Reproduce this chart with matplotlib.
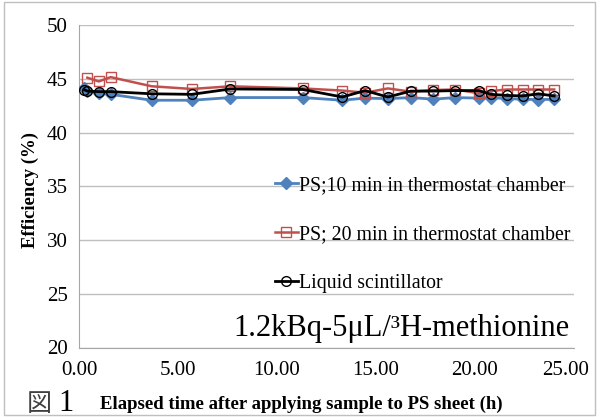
import matplotlib
matplotlib.use("Agg")
import matplotlib.pyplot as plt
import matplotlib.transforms as mtransforms
from matplotlib.patches import Rectangle

plt.rcParams['font.family'] = ['Liberation Serif', 'Noto Sans CJK JP', 'DejaVu Sans']

# Elapsed time (h) and counting efficiency (%)
t_all = [0.25, 0.42, 1.0, 1.6, 3.67, 5.7, 7.65, 11.3, 13.3, 14.45, 15.6,
         16.75, 17.9, 19.0, 20.2, 20.8, 21.6, 22.4, 23.2, 24.0]
ps10 = [44.1, 43.9, 43.7, 43.55, 43.0, 43.0, 43.25, 43.25, 43.0, 43.2, 43.15,
        43.25, 43.1, 43.25, 43.2, 43.25, 43.15, 43.1, 43.05, 43.1]
t_ps20 = t_all[1:]
ps20 = [45.1, 44.75, 45.15, 44.3, 44.05, 44.3, 44.1, 43.9, 43.7, 44.1,
        43.8, 43.95, 44.0, 43.65, 43.85, 44.0, 44.0, 44.0, 44.0]
liquid = [44.0, 43.85, 43.8, 43.8, 43.6, 43.55, 44.05, 44.0, 43.3, 43.9, 43.3,
          43.85, 43.85, 43.9, 43.9, 43.55, 43.45, 43.4, 43.6, 43.4]
x_ticks = [0, 5, 10, 15, 20, 25]
y_ticks = [20, 25, 30, 35, 40, 45, 50]

W, H = 597, 417
AX_L, AX_R, AX_T, AX_B = 79, 574, 25, 347.5

fig = plt.figure(figsize=(W / 100, H / 100), dpi=100)
fig.patches.append(Rectangle((4 / W, 2 / H), 591 / W, 413 / H, transform=fig.transFigure,
                             fill=False, edgecolor='#BFBFBF', linewidth=1))

ax = fig.add_axes([AX_L / W, 1 - AX_B / H, (AX_R - AX_L) / W, (AX_B - AX_T) / H])

ax.plot(t_all, ps10, color='#4F81BD', lw=2, marker='D', ms=6.5,
        mfc='#4F81BD', mec='#4F81BD', label='PS;10 min in thermostat chamber', zorder=3)
ax.plot(t_ps20, ps20, color='#C0504D', lw=1.8, marker='s', ms=7.5,
        mfc='none', mec='#C0504D', mew=1, label='PS; 20 min in thermostat chamber', zorder=4)
ax.plot(t_all, liquid, color='black', lw=2, marker='o', ms=7,
        mfc='none', mec='black', mew=1, label='Liquid scintillator', zorder=5)

ax.set_xlim(0, 25)
ax.set_ylim(20, 50)
ax.set_xticks(x_ticks)
ax.set_xticklabels([f"{v:.2f}" for v in x_ticks])
ax.set_yticks(y_ticks)
ax.tick_params(axis='both', length=0, labelsize=15)
ax.tick_params(axis='y', pad=8)
ax.tick_params(axis='x', pad=10)
ax.grid(axis='y', color='#BFBFBF', lw=1)
ax.set_axisbelow(True)
for side in ['top', 'right']:
    ax.spines[side].set_visible(False)
for side in ['left', 'bottom']:
    ax.spines[side].set_color('#A6A6A6')

# keep the last x label inside the chart frame
last = ax.get_xticklabels()[-1]
last.set_transform(last.get_transform() +
                   mtransforms.ScaledTranslation(-6 / 72, 0, fig.dpi_scale_trans))

ax_w, ax_h = AX_R - AX_L, AX_B - AX_T
ax.legend(loc='upper left', bbox_to_anchor=((275 - AX_L) / ax_w, (AX_B - 176) / ax_h),
          frameon=False, fontsize=14.3, handlelength=1.15, handletextpad=0.05,
          labelspacing=1.5, borderpad=0, borderaxespad=0)

ax.text((569 - AX_L) / ax_w, (AX_B - 336) / ax_h, '1.2kBq-5μL/³H-methionine',
        transform=ax.transAxes, ha='right', va='baseline', fontsize=22)

fig.text(30 / W, 1 - 190 / H, 'Efficiency (%)', rotation=90, ha='center', va='center',
         fontsize=13.5, fontweight='bold')
fig.text(27 / W, 1 - 411 / H, '図', fontsize=18, family=['Noto Sans CJK JP'],
         ha='left', va='baseline', color='#404040')
fig.text(58 / W, 1 - 411 / H, '1', fontsize=22, ha='left', va='baseline')
fig.text(100 / W, 1 - 409 / H, 'Elapsed time after applying sample to PS sheet (h)',
         fontsize=13.5, fontweight='bold', ha='left', va='baseline')

fig.savefig('out.png', dpi=100)
